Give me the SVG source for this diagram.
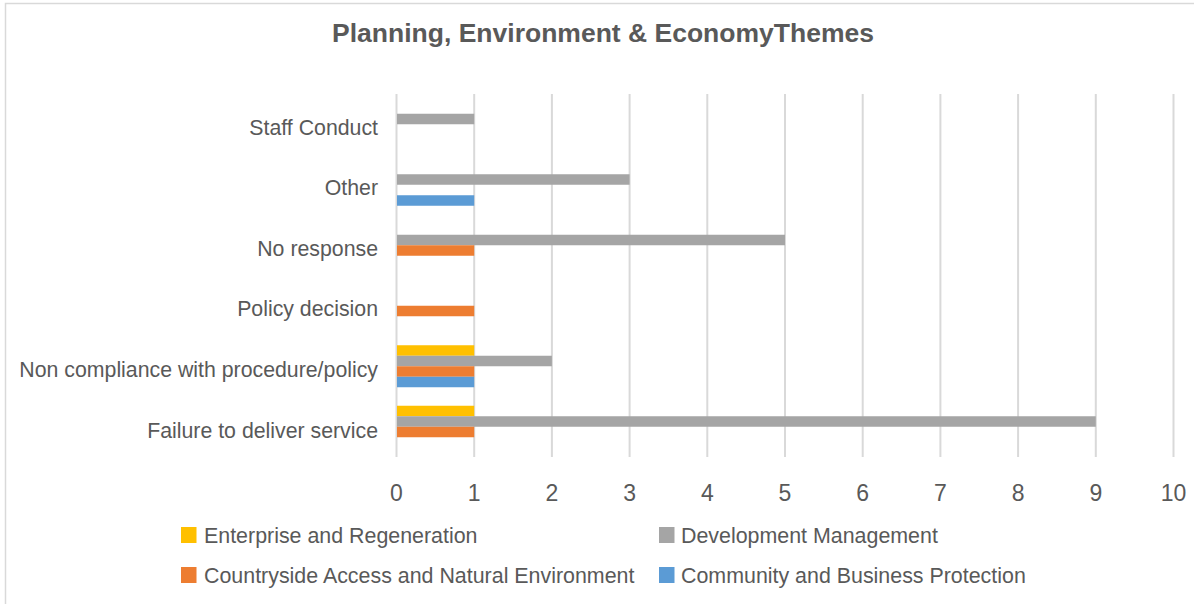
<svg xmlns="http://www.w3.org/2000/svg" width="1194" height="604" viewBox="0 0 1194 604">
  <style>
    text { font-family: "Liberation Sans", Arial, sans-serif; fill: #595959; }
    .title { font-size: 26.5px; font-weight: bold; text-anchor: middle; }
    .cat { font-size: 21.3px; text-anchor: end; }
    .tick { font-size: 23px; text-anchor: middle; }
    .leg { font-size: 21.4px; }
    .grid { stroke: #D9D9D9; stroke-width: 2; }
    .s1 { fill: #FFC000; }
    .s2 { fill: #A5A5A5; }
    .s3 { fill: #ED7D31; }
    .s4 { fill: #5B9BD5; }
  </style>
  <rect x="0" y="0" width="1194" height="604" fill="#FFFFFF"/>
  <rect x="5.5" y="3.5" width="1200" height="620" fill="none" stroke="#D9D9D9" stroke-width="1.5"/>

  <g id="title">
    <text class="title" x="603" y="41.5">Planning, Environment &amp; EconomyThemes</text>
  </g>

  <g id="gridlines">
    <line class="grid" x1="396.5" y1="94" x2="396.5" y2="457"/>
    <line class="grid" x1="474.2" y1="94" x2="474.2" y2="457"/>
    <line class="grid" x1="551.9" y1="94" x2="551.9" y2="457"/>
    <line class="grid" x1="629.6" y1="94" x2="629.6" y2="457"/>
    <line class="grid" x1="707.3" y1="94" x2="707.3" y2="457"/>
    <line class="grid" x1="785" y1="94" x2="785" y2="457"/>
    <line class="grid" x1="862.7" y1="94" x2="862.7" y2="457"/>
    <line class="grid" x1="940.4" y1="94" x2="940.4" y2="457"/>
    <line class="grid" x1="1018.1" y1="94" x2="1018.1" y2="457"/>
    <line class="grid" x1="1095.8" y1="94" x2="1095.8" y2="457"/>
    <line class="grid" x1="1173.5" y1="94" x2="1173.5" y2="457"/>
  </g>

  <g id="cat-staff-conduct">
    <rect class="s2" x="397" y="113.75" width="77.2" height="10.5"/>
    <text class="cat" x="378" y="134.5">Staff Conduct</text>
  </g>
  <g id="cat-other">
    <rect class="s2" x="397" y="174.25" width="232.6" height="10.5"/>
    <rect class="s4" x="397" y="195.25" width="77.2" height="10.5"/>
    <text class="cat" x="378" y="195">Other</text>
  </g>
  <g id="cat-no-response">
    <rect class="s2" x="397" y="234.75" width="388" height="10.5"/>
    <rect class="s3" x="397" y="245.25" width="77.2" height="10.5"/>
    <text class="cat" x="378" y="255.5">No response</text>
  </g>
  <g id="cat-policy-decision">
    <rect class="s3" x="397" y="305.75" width="77.2" height="10.5"/>
    <text class="cat" x="378" y="316">Policy decision</text>
  </g>
  <g id="cat-non-compliance">
    <rect class="s1" x="397" y="345.25" width="77.2" height="10.5"/>
    <rect class="s2" x="397" y="355.75" width="154.9" height="10.5"/>
    <rect class="s3" x="397" y="366.25" width="77.2" height="10.5"/>
    <rect class="s4" x="397" y="376.75" width="77.2" height="10.5"/>
    <text class="cat" x="378" y="377">Non compliance with procedure/policy</text>
  </g>
  <g id="cat-failure">
    <rect class="s1" x="397" y="405.75" width="77.2" height="10.5"/>
    <rect class="s2" x="397" y="416.25" width="698.8" height="10.5"/>
    <rect class="s3" x="397" y="426.75" width="77.2" height="10.5"/>
    <text class="cat" x="378" y="437.5">Failure to deliver service</text>
  </g>

  <g id="x-axis-labels">
    <text class="tick" x="396.5" y="500.5">0</text>
    <text class="tick" x="474.2" y="500.5">1</text>
    <text class="tick" x="551.9" y="500.5">2</text>
    <text class="tick" x="629.6" y="500.5">3</text>
    <text class="tick" x="707.3" y="500.5">4</text>
    <text class="tick" x="785" y="500.5">5</text>
    <text class="tick" x="862.7" y="500.5">6</text>
    <text class="tick" x="940.4" y="500.5">7</text>
    <text class="tick" x="1018.1" y="500.5">8</text>
    <text class="tick" x="1095.8" y="500.5">9</text>
    <text class="tick" x="1173.5" y="500.5">10</text>
  </g>

  <g id="legend">
    <g id="legend-enterprise">
      <rect class="s1" x="181" y="527" width="15.5" height="16"/>
      <text class="leg" x="204" y="543">Enterprise and Regeneration</text>
    </g>
    <g id="legend-development">
      <rect class="s2" x="659" y="527" width="15.5" height="16"/>
      <text class="leg" x="681" y="543">Development Management</text>
    </g>
    <g id="legend-countryside">
      <rect class="s3" x="181" y="567" width="15.5" height="16"/>
      <text class="leg" x="204" y="583">Countryside Access and Natural Environment</text>
    </g>
    <g id="legend-community">
      <rect class="s4" x="659" y="567" width="15.5" height="16"/>
      <text class="leg" x="681" y="583">Community and Business Protection</text>
    </g>
  </g>
</svg>
